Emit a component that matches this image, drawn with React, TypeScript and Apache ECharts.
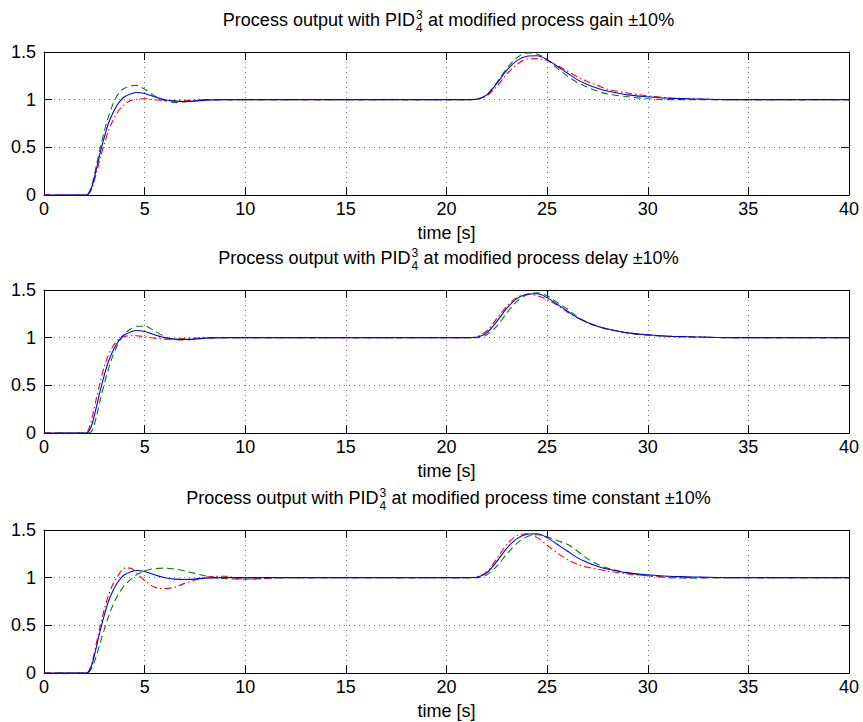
import React, { useEffect, useRef } from "react";
import * as echarts from "echarts";

// time grid [s]
const T = [0, 2, 2.2, 2.4, 2.6, 2.8, 3.0, 3.2, 3.4, 3.6, 3.8, 4.0, 4.3, 4.6, 5.0, 5.5, 6.0, 6.5, 7.0, 7.5, 8.0, 9, 10, 12, 20, 21, 21.5, 22, 22.5, 23, 23.5, 24, 24.5, 25, 25.5, 26, 26.5, 27, 27.5, 28, 29, 30, 31, 32, 34, 40];

// nominal process (blue)
const nominal = [0, 0, 0.01, 0.1, 0.27, 0.45, 0.61, 0.75, 0.85, 0.93, 0.99, 1.03, 1.06, 1.075, 1.065, 1.03, 1.0, 0.985, 0.98, 0.985, 0.995, 1.0, 1.0, 1.0, 1.0, 1.0, 1.005, 1.05, 1.17, 1.31, 1.41, 1.455, 1.46, 1.42, 1.35, 1.28, 1.21, 1.16, 1.12, 1.09, 1.05, 1.03, 1.015, 1.01, 1.0, 1.0];

// gain +10% (green) / -10% (red)
const gainPlus = [0, 0, 0.01, 0.12, 0.31, 0.5, 0.67, 0.82, 0.94, 1.03, 1.09, 1.12, 1.145, 1.15, 1.11, 1.04, 0.99, 0.97, 0.975, 0.99, 1.0, 1.0, 1.0, 1.0, 1.0, 1.0, 1.005, 1.05, 1.18, 1.33, 1.44, 1.49, 1.48, 1.42, 1.33, 1.25, 1.18, 1.13, 1.09, 1.06, 1.03, 1.01, 1.0, 1.0, 1.0, 1.0];
const gainMinus = [0, 0, 0.01, 0.08, 0.23, 0.39, 0.54, 0.67, 0.77, 0.85, 0.91, 0.95, 0.99, 1.005, 1.01, 1.0, 0.99, 0.99, 0.99, 0.995, 1.0, 1.0, 1.0, 1.0, 1.0, 1.0, 1.005, 1.04, 1.14, 1.27, 1.37, 1.425, 1.43, 1.41, 1.36, 1.3, 1.24, 1.19, 1.15, 1.11, 1.07, 1.04, 1.02, 1.01, 1.0, 1.0];

// delay +10% (green) / -10% (red)
const delayPlus = [0, 0, 0, 0.03, 0.17, 0.35, 0.52, 0.67, 0.8, 0.9, 0.98, 1.04, 1.09, 1.12, 1.12, 1.07, 1.01, 0.98, 0.975, 0.985, 0.995, 1.0, 1.0, 1.0, 1.0, 1.0, 1.0, 1.03, 1.12, 1.26, 1.38, 1.45, 1.47, 1.44, 1.37, 1.3, 1.22, 1.16, 1.12, 1.09, 1.05, 1.025, 1.015, 1.01, 1.0, 1.0];
const delayMinus = [0, 0, 0.03, 0.17, 0.36, 0.54, 0.7, 0.82, 0.9, 0.96, 1.0, 1.015, 1.02, 1.02, 1.01, 0.995, 0.985, 0.985, 0.99, 0.995, 1.0, 1.0, 1.0, 1.0, 1.0, 1.0, 1.01, 1.07, 1.2, 1.33, 1.42, 1.455, 1.44, 1.4, 1.34, 1.27, 1.21, 1.16, 1.12, 1.09, 1.05, 1.03, 1.015, 1.01, 1.0, 1.0];

// time constant +10% (green) / -10% (red)
const tcPlus = [0, 0, 0.005, 0.06, 0.18, 0.32, 0.46, 0.59, 0.7, 0.79, 0.86, 0.92, 0.98, 1.03, 1.07, 1.095, 1.1, 1.09, 1.07, 1.045, 1.02, 0.99, 0.985, 1.0, 1.0, 1.0, 1.0, 1.03, 1.12, 1.25, 1.36, 1.43, 1.45, 1.43, 1.39, 1.35, 1.28, 1.2, 1.14, 1.1, 1.05, 1.02, 1.0, 0.995, 1.0, 1.0];
const tcMinus = [0, 0, 0.01, 0.12, 0.31, 0.5, 0.67, 0.81, 0.92, 0.99, 1.06, 1.1, 1.1, 1.05, 0.97, 0.9, 0.885, 0.9, 0.94, 0.975, 1.005, 1.015, 0.985, 1.0, 1.0, 1.0, 1.01, 1.06, 1.2, 1.35, 1.44, 1.46, 1.42, 1.34, 1.26, 1.19, 1.14, 1.11, 1.09, 1.07, 1.04, 1.02, 1.01, 1.0, 1.0, 1.0];

const titleSuffixes = [
  " at modified process gain ±10%",
  " at modified process delay ±10%",
  " at modified process time constant ±10%",
];
const xTicks = { min: 0, max: 40, interval: 5 };
const yTicks = { min: 0, max: 1.5, interval: 0.5 };
const xName = "time [s]";

const FONT = "'Liberation Sans', Arial, Helvetica, sans-serif";
const FS = 18;
const SUPFS = 12;
const GRID_LEFT = 44;
const GRID_W = 805;
const GRID_H = 143;
const GRID_TOPS = [52, 290, 530];

function measure(text: string, size: number): number {
  try {
    const c = document.createElement("canvas");
    const ctx = c.getContext("2d");
    if (ctx) {
      ctx.font = `${size}px 'Liberation Sans', Arial, sans-serif`;
      return ctx.measureText(text).width;
    }
  } catch (e) {}
  return text.length * size * 0.52;
}

export default function App() {
  const ref = useRef<HTMLDivElement>(null);

  useEffect(() => {
    if (!ref.current) return;
    const chart = echarts.init(ref.current, undefined, { renderer: "svg" });
    const pairs = (v: number[]) => T.map((t, i) => [t, v[i]]);
    const plots = [
      { green: gainPlus, red: gainMinus },
      { green: delayPlus, red: delayMinus },
      { green: tcPlus, red: tcMinus },
    ];

    const axisCommonX = (i: number, pos: "bottom" | "top") => ({
      gridIndex: i,
      type: "value",
      position: pos,
      ...xTicks,
      axisLine: { show: true, onZero: false, lineStyle: { color: "#000", width: 1 } },
      axisTick: { show: true, inside: true, length: 8, lineStyle: { color: "#000" } },
      axisLabel: pos === "bottom"
        ? { show: true, fontSize: FS, color: "#000", fontFamily: FONT, margin: 5 }
        : { show: false },
      splitLine: pos === "bottom"
        ? { show: true, lineStyle: { type: [1, 4], color: "#777", width: 1 } }
        : { show: false },
    });
    const axisCommonY = (i: number, pos: "left" | "right") => ({
      gridIndex: i,
      type: "value",
      position: pos,
      ...yTicks,
      axisLine: { show: true, onZero: false, lineStyle: { color: "#000", width: 1 } },
      axisTick: { show: true, inside: true, length: 8, lineStyle: { color: "#000" } },
      axisLabel: pos === "left"
        ? { show: true, fontSize: FS, color: "#000", fontFamily: FONT, margin: 8 }
        : { show: false },
      splitLine: pos === "left"
        ? { show: true, lineStyle: { type: [1, 4], color: "#777", width: 1 } }
        : { show: false },
    });

    const xAxis: any[] = [];
    const yAxis: any[] = [];
    GRID_TOPS.forEach((_, i) => {
      xAxis.push(axisCommonX(i, "bottom"));
      xAxis.push(axisCommonX(i, "top"));
      yAxis.push(axisCommonY(i, "left"));
      yAxis.push(axisCommonY(i, "right"));
    });

    const series: any[] = [];
    plots.forEach((p, i) => {
      const base = {
        type: "line",
        xAxisIndex: i * 2,
        yAxisIndex: i * 2,
        showSymbol: false,
        symbol: "none",
        smooth: 0.3,
        silent: true,
      };
      series.push({ ...base, data: pairs(p.green), lineStyle: { color: "#008000", width: 1.1, type: [7, 4] } });
      series.push({ ...base, data: pairs(p.red), lineStyle: { color: "#ff0000", width: 1.1, type: [7, 3, 1.5, 3] } });
      series.push({ ...base, data: pairs(nominal), lineStyle: { color: "#0000ff", width: 1.1 } });
    });

    const graphic: any[] = [];
    const center = GRID_LEFT + GRID_W / 2 + 2;
    const part1 = "Process output with PID";
    GRID_TOPS.forEach((top, i) => {
      const ty = top - 32;
      const w1 = measure(part1, FS);
      const supW = measure("3", SUPFS) + 1.5;
      const w2 = measure(titleSuffixes[i], FS);
      const start = center - (w1 + supW + w2) / 2;
      const ax = start + w1;
      graphic.push({ type: "text", x: ax, y: ty, style: { text: part1, fill: "#000", font: `${FS}px ${FONT}`, align: "right", verticalAlign: "middle" } });
      graphic.push({ type: "text", x: ax + 1, y: ty - 5, style: { text: "3", fill: "#000", font: `${SUPFS}px ${FONT}`, align: "left", verticalAlign: "middle" } });
      graphic.push({ type: "text", x: ax + 1, y: ty + 8, style: { text: "4", fill: "#000", font: `${SUPFS}px ${FONT}`, align: "left", verticalAlign: "middle" } });
      graphic.push({ type: "text", x: ax + supW, y: ty, style: { text: titleSuffixes[i], fill: "#000", font: `${FS}px ${FONT}`, align: "left", verticalAlign: "middle" } });
      graphic.push({ type: "text", x: GRID_LEFT + GRID_W / 2, y: top + GRID_H + 38, style: { text: xName, fill: "#000", font: `${FS}px ${FONT}`, align: "center", verticalAlign: "middle" } });
    });

    chart.setOption({
      animation: false,
      backgroundColor: "#fff",
      textStyle: { fontFamily: FONT },
      grid: GRID_TOPS.map((top) => ({ left: GRID_LEFT, top, width: GRID_W, height: GRID_H })),
      xAxis,
      yAxis,
      series,
      graphic,
    });
    return () => chart.dispose();
  }, []);

  return <div ref={ref} style={{ width: 863, height: 722, position: "absolute", left: 0, top: 0, background: "#fff" }} />;
}
